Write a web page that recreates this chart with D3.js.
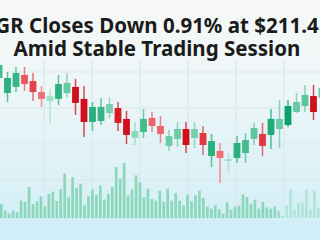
<!DOCTYPE html>
<html><head><meta charset="utf-8">
<script src="https://cdn.jsdelivr.net/npm/d3@7"></script>
<style>html,body{margin:0;padding:0;overflow:hidden;background:#f4f8f8}svg{display:block}</style>
</head><body>
<svg id="c" width="320" height="240"></svg>
<script>
const titleLines = ["GR Closes Down 0.91% at $211.4", "Amid Stable Trading Session"];
const sessions = d3.range(39);
const opens  = [213.19,212.25,212.63,213.38,213.00,212.31,211.75,211.88,212.25,212.63,211.88,210.44,210.50,211.00,211.31,210.63,209.44,209.81,210.69,210.19,208.94,209.38,210.00,209.44,209.75,208.31,208.63,208.00,208.19,208.50,209.38,209.69,209.63,210.00,210.25,211.06,211.44,212.06,211.94];
const closes = [214.00,213.19,213.50,212.81,212.31,211.88,212.06,212.81,212.88,211.63,210.44,211.38,211.38,211.56,210.38,209.63,209.88,210.63,210.19,209.69,209.56,210.00,209.00,210.00,209.00,209.25,208.19,208.13,209.13,209.31,210.06,208.94,210.63,210.63,211.44,211.69,212.13,211.06,212.56];
const highs  = [214.38,213.56,213.88,213.88,213.50,212.69,212.50,213.38,213.50,213.13,212.69,211.69,211.94,212.00,211.69,211.13,210.44,211.25,211.06,210.81,209.94,210.44,210.44,210.44,210.19,209.69,209.13,208.50,209.56,209.75,210.38,210.38,211.25,211.81,211.81,212.25,212.75,212.75,213.06];
const lows   = [212.81,211.69,212.31,212.38,211.75,211.38,210.38,211.50,212.00,210.88,209.50,209.88,210.25,210.69,209.88,209.06,209.00,209.44,209.81,209.13,208.63,208.88,208.50,208.81,208.38,207.63,206.63,207.31,207.88,207.88,209.00,208.31,208.75,208.81,210.13,211.00,211.06,210.56,211.56];
const volumes = [140,73,43,73,57,173,163,310,140,167,217,117,240,263,170,290,443,207,407,300,343,127,217,283,230,323,183,243,310,510,393,550,227,283,427,360,207,293,190,173,273,
                 160,293,173,250,173,127,233,167,227,273,200,113,93,127,90,43,157,83,110,123,237,210,140,183,93,160,107,93,117,67,20,127,290,83,150,157,283,83,273,100];

const W = 320, H = 240;
const svg = d3.select("#c");
const defs = svg.append("defs");

const bg = defs.append("linearGradient").attr("id","bg").attr("x1",0).attr("y1",0).attr("x2",0).attr("y2",1);
bg.append("stop").attr("offset","0%").attr("stop-color","#f6f8f7");
bg.append("stop").attr("offset","35%").attr("stop-color","#eef6f7");
bg.append("stop").attr("offset","75%").attr("stop-color","#dcf1f7");
bg.append("stop").attr("offset","100%").attr("stop-color","#cdedf8");
svg.append("rect").attr("width",W).attr("height",H).attr("fill","url(#bg)");

const vg = defs.append("linearGradient").attr("id","vg").attr("gradientUnits","userSpaceOnUse")
  .attr("x1",0).attr("y1",0).attr("x2",W).attr("y2",0);
[[0,0.85],[0.86,0.85],[0.89,0.4],[1,0.45]].forEach(([o,a]) =>
  vg.append("stop").attr("offset",o).attr("stop-color","#7fd3ae").attr("stop-opacity",a));

// grid
const grid = svg.append("g").attr("stroke","#d9e6e9").attr("stroke-width",1.2).attr("opacity",0.8);
grid.selectAll("line.h").data(d3.range(4).map(i => 72 + i*36)).join("line")
  .attr("x1",0).attr("x2",W).attr("y1",d=>d).attr("y2",d=>d);
grid.selectAll("line.v").data(d3.range(6).map(i => 44 + i*48)).join("line")
  .attr("y1",60).attr("y2",218).attr("x1",d=>d).attr("x2",d=>d);

// scales
const x = d3.scaleLinear().domain([0,38]).range([-1,322]);
const y = d3.scaleLinear().domain([206.5,214.5]).range([185,57]);
const xv = d3.scaleLinear().domain([0,volumes.length-1]).range([1.3,318.3]);
const yv = d3.scaleLinear().domain([0,600]).range([218,158]);

// volume
svg.append("g").selectAll("rect").data(volumes).join("rect")
  .attr("x",(d,i)=>xv(i)-1.35).attr("width",2.7)
  .attr("y",d=>yv(d)).attr("height",d=>yv(0)-yv(d))
  .attr("fill","url(#vg)");

// candles
const gCol = d3.scaleLinear().domain([0.35,1.1]).range(["#9fe2c4","#0ba36a"]).clamp(true);
const rCol = d3.scaleLinear().domain([0.35,1.0]).range(["#f57c80","#d20f1c"]).clamp(true);
const col = i => { const b = Math.abs(closes[i]-opens[i]); return closes[i]>=opens[i] ? gCol(b) : rCol(b); };

const cg = svg.append("g").selectAll("g").data(sessions).join("g");
cg.append("line")
  .attr("x1",i=>x(i)).attr("x2",i=>x(i))
  .attr("y1",i=>y(highs[i])).attr("y2",i=>y(lows[i]))
  .attr("stroke",i=>col(i)).attr("stroke-width",1.5).attr("opacity",0.75);
cg.append("rect")
  .attr("x",i=>x(i)-3.4).attr("width",6.8)
  .attr("y",i=>y(Math.max(opens[i],closes[i])))
  .attr("height",i=>Math.max(1.6, Math.abs(y(opens[i])-y(closes[i]))))
  .attr("fill",i=>col(i));

// title
const t = svg.append("g").attr("font-family","'Noto Sans', 'Open Sans', sans-serif")
  .attr("font-weight",700).attr("fill","#1b1b1b").attr("text-anchor","middle");
const tl = t.selectAll("text").data(titleLines).join("text")
  .attr("x",157).attr("y",(d,i)=>33+i*23).attr("font-size",20).text(d=>d);
const w2 = tl.nodes()[1].getComputedTextLength();
const fs = 20*287/w2;
tl.attr("font-size",fs);
</script>
</body></html>
